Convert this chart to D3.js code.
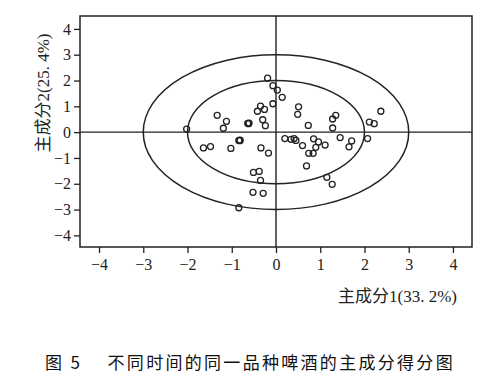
<!DOCTYPE html>
<html>
<head>
<meta charset="utf-8">
<script src="https://cdn.jsdelivr.net/npm/d3@7"></script>
<style>
  body { margin: 0; background: #fff; }
  .axis text { font-family: "Liberation Serif", "DejaVu Serif", serif; font-size: 16px; fill: #222; }
  .axis path, .axis line { stroke: #222; stroke-width: 1.3; }
</style>
</head>
<body>
<svg id="chart"></svg>
<script>
let w = 500;
let h = 390;

// principal component scores
let pc1 = [-0.19, -0.07, 0.03, 0.14, -0.07, -0.35, -0.26, -0.42, -1.33, -1.12, -1.19,
  -0.64, -0.61, -0.62, -0.30, -0.24, -2.02, 0.51, 0.49, 0.73, 1.35, 1.28, 1.28, 2.37, 2.11, 2.22,
  -0.84, -0.81, -0.82, -1.64, -1.48, -1.02, -0.34, -0.17, -0.51, -0.38, -0.35, -0.52, -0.29, -0.84,
  0.20, 0.34, 0.41, 0.45, 0.60, 0.85, 0.96, 0.90, 1.11, 0.74, 0.84, 1.45, 1.71, 1.65, 2.07,
  0.69, 1.15, 1.27];
let pc2 = [2.09, 1.80, 1.63, 1.35, 1.10, 1.01, 0.88, 0.81, 0.65, 0.42, 0.15,
  0.34, 0.35, 0.33, 0.48, 0.25, 0.12, 0.98, 0.69, 0.26, 0.65, 0.51, 0.16, 0.81, 0.39, 0.33,
  -0.32, -0.31, -0.33, -0.61, -0.56, -0.63, -0.61, -0.81, -1.56, -1.52, -1.87, -2.33, -2.37, -2.93,
  -0.25, -0.28, -0.25, -0.32, -0.52, -0.26, -0.38, -0.59, -0.50, -0.82, -0.82, -0.21, -0.34, -0.57, -0.25,
  -1.31, -1.75, -2.02];

let radii = [2, 3];          // confidence circles
let ticks = [-4, -3, -2, -1, 0, 1, 2, 3, 4];

let xTitle = "主成分1(33. 2%)";
let yTitle = "主成分2(25. 4%)";
let caption = "图 5\u3000 不同时间的同一品种啤酒的主成分得分图";

let points = pc1.map((v, i) => ({ x: v, y: pc2[i] }));

let svg = d3.select("#chart").attr("width", w).attr("height", h);

let xScale = d3.scaleLinear().domain([-4.43, 4.43]).range([80, 472]);
let yScale = d3.scaleLinear().domain([-4.45, 4.5]).range([247, 16]);

// frame
svg.append("rect")
  .attr("x", 80).attr("y", 16)
  .attr("width", 392).attr("height", 231)
  .attr("fill", "none").attr("stroke", "#222").attr("stroke-width", 1.5);

// zero lines
svg.append("line")
  .attr("x1", 80).attr("x2", 472)
  .attr("y1", yScale(0)).attr("y2", yScale(0))
  .attr("stroke", "#222").attr("stroke-width", 1.4);
svg.append("line")
  .attr("x1", xScale(0)).attr("x2", xScale(0))
  .attr("y1", 16).attr("y2", 247)
  .attr("stroke", "#222").attr("stroke-width", 1.4);

// circles r = 2, 3 in data units
svg.selectAll("ellipse")
  .data(radii)
  .enter()
  .append("ellipse")
  .attr("cx", xScale(0))
  .attr("cy", yScale(0))
  .attr("rx", (d) => xScale(d) - xScale(0))
  .attr("ry", (d) => yScale(0) - yScale(d))
  .attr("fill", "none")
  .attr("stroke", "#222")
  .attr("stroke-width", 1.5);

// AXES
let xAxis = d3.axisBottom(xScale).tickValues(ticks).tickSize(6).tickPadding(6);
let yAxis = d3.axisLeft(yScale).tickValues(ticks).tickSize(6).tickPadding(3);

svg.append("g").attr("class", "axis")
  .attr("transform", `translate(0, 247)`)
  .call(xAxis)
  .call((g) => g.select(".domain").remove());

svg.append("g").attr("class", "axis")
  .attr("transform", `translate(80, 0)`)
  .call(yAxis)
  .call((g) => g.select(".domain").remove());

// points
svg.selectAll(".pt")
  .data(points)
  .enter()
  .append("circle")
  .attr("class", "pt")
  .attr("cx", (d) => xScale(d.x))
  .attr("cy", (d) => yScale(d.y))
  .attr("r", 3)
  .attr("fill", "none")
  .attr("stroke", "#222")
  .attr("stroke-width", 1.3);

// titles
svg.append("text")
  .attr("x", 457).attr("y", 302)
  .attr("text-anchor", "end")
  .style("font-family", "'Liberation Serif', 'Noto Sans CJK SC', serif")
  .style("font-size", "17px")
  .attr("fill", "#222")
  .text(xTitle);

svg.append("text")
  .attr("transform", "translate(49, 93) rotate(-90)")
  .attr("text-anchor", "middle")
  .style("font-family", "'Liberation Serif', 'Noto Sans CJK SC', serif")
  .style("font-size", "17px")
  .attr("fill", "#222")
  .text(yTitle);

svg.append("text")
  .attr("x", 45).attr("y", 369)
  .style("font-family", "'Noto Sans CJK SC', sans-serif")
  .style("font-size", "17px")
  .style("letter-spacing", "2.3px")
  .attr("fill", "#111")
  .text(caption);
</script>
</body>
</html>
